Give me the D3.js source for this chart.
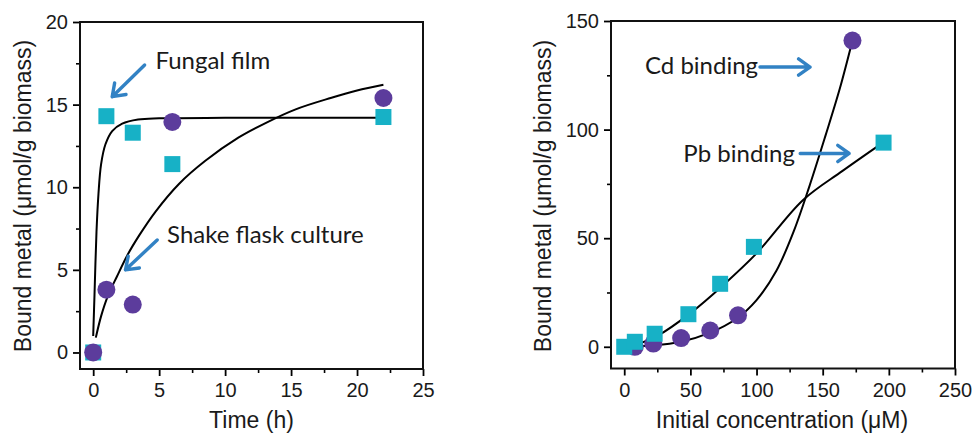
<!DOCTYPE html>
<html>
<head>
<meta charset="UTF-8">
<title>Metal binding</title>
<script src="https://d3js.org/d3.v7.min.js"></script>
<style>
  body { margin: 0; background: #fff; }
  svg text { fill: #1a1a1a; }
</style>
</head>
<body>
<div id="chart"></div>
<script>
// ---- left panel: binding over time ----
var filmTime = [0, 1, 3, 6, 22];
var filmBound = [0, 14.3, 13.3, 11.4, 14.25];
var shakeTime = [0, 1, 3, 6, 22];
var shakeBound = [0, 3.8, 2.9, 13.95, 15.4];

// fitted curves
var filmFitTime = [0, 0.1, 0.25, 0.4, 0.6, 0.93, 1.44, 2.2, 3.4, 5, 10, 22];
var filmFitBound = [1.0, 3.5, 7.3, 9.6, 11.4, 12.6, 13.4, 13.85, 14.1, 14.17, 14.2, 14.2];
var shakeFitTime = [0.2, 0.6, 1.1, 1.8, 2.6, 3.5, 4.7, 6.5, 8.5, 11, 13.1, 15.3, 18, 20, 22];
var shakeFitBound = [0.9, 2.2, 3.4, 4.6, 5.9, 7.1, 8.5, 10.2, 11.6, 13.0, 13.9, 14.7, 15.4, 15.85, 16.2];

var timeTicks = [0, 5, 10, 15, 20, 25];
var leftYTicks = [0, 5, 10, 15, 20];

// ---- right panel: binding vs initial concentration ----
var pbConc = [0, 8, 23, 48.5, 72.5, 98, 196];
var pbBound = [0, 2.3, 6, 15, 29, 46, 94];
var cdConc = [8, 22, 43, 65, 86, 172.5];
var cdBound = [0, 1.5, 4, 7.5, 14.5, 141];

var pbFitConc = [2, 10, 25, 50, 75, 100, 135, 165, 195];
var pbFitBound = [0, 1.2, 5, 15.5, 28.5, 43, 67.5, 81, 93.8];
var cdFitConc = [2, 20, 42, 65, 85, 100, 115, 128, 140, 152, 163, 172.5];
var cdFitBound = [0, 0.6, 2.2, 6.5, 13, 21.5, 35, 53, 74, 97, 119, 141];

var concTicks = [0, 50, 100, 150, 200, 250];
var rightYTicks = [0, 50, 100, 150];

var yTitle = "Bound metal (\u03bcmol/g biomass)";

var cyan = "#17b1c6";
var purple = "#5c3c9c";
var arrowBlue = "#3282c4";

var svg = d3.select("#chart").append("svg")
    .attr("width", 975)
    .attr("height", 433);

function zip(xs, ys) {
    return xs.map(function(x, i) { return [x, ys[i]]; });
}

// draws one framed panel with its axes, returns the scales
function drawPanel(opt) {
    var x = d3.scaleLinear().domain(opt.xDomain).range([opt.left, opt.right]);
    var y = d3.scaleLinear().domain(opt.yDomain).range([opt.bottom, opt.top]);
    var g = svg.append("g");

    // minor ticks first, no labels
    g.append("g")
        .attr("transform", "translate(0," + opt.bottom + ")")
        .call(d3.axisBottom(x).tickValues(opt.xMinor).tickSize(4).tickFormat(""))
        .call(function(a) { a.select(".domain").remove(); })
        .selectAll("line").attr("stroke-width", 1.6);
    g.append("g")
        .attr("transform", "translate(" + opt.left + ",0)")
        .call(d3.axisLeft(y).tickValues(opt.yMinor).tickSize(4).tickFormat(""))
        .call(function(a) { a.select(".domain").remove(); })
        .selectAll("line").attr("stroke-width", 1.6);

    var xa = g.append("g")
        .attr("transform", "translate(0," + opt.bottom + ")")
        .call(d3.axisBottom(x).tickValues(opt.xTicks).tickSize(7).tickPadding(7));
    var ya = g.append("g")
        .attr("transform", "translate(" + opt.left + ",0)")
        .call(d3.axisLeft(y).tickValues(opt.yTicks).tickSize(7).tickPadding(5));
    [xa, ya].forEach(function(a) {
        a.select(".domain").remove();
        a.selectAll("line").attr("stroke-width", 1.8);
        a.selectAll("text")
            .attr("font-family", "Liberation Sans, Arial, sans-serif")
            .attr("font-size", 20)
            .attr("fill", "#1a1a1a");
    });

    g.append("rect")
        .attr("x", opt.left).attr("y", opt.top)
        .attr("width", opt.right - opt.left)
        .attr("height", opt.bottom - opt.top)
        .attr("fill", "none")
        .attr("stroke", "#111")
        .attr("stroke-width", 2);

    // axis titles
    g.append("text")
        .attr("x", (opt.left + opt.right) / 2 + opt.xTitleShift)
        .attr("y", 428)
        .attr("text-anchor", "middle")
        .attr("font-family", "Liberation Sans, Arial, sans-serif")
        .attr("font-size", 23)
        .text(opt.xTitle);
    g.append("text")
        .attr("transform", "translate(" + opt.yTitleX + ",196) rotate(-90)")
        .attr("text-anchor", "middle")
        .attr("font-family", "Liberation Sans, Arial, sans-serif")
        .attr("font-size", 23)
        .text(yTitle);

    return { x: x, y: y, g: g };
}

function drawCurve(p, pts) {
    p.g.append("path")
        .datum(pts)
        .attr("fill", "none")
        .attr("stroke", "#000")
        .attr("stroke-width", 2)
        .attr("d", d3.line()
            .x(function(d) { return p.x(d[0]); })
            .y(function(d) { return p.y(d[1]); })
            .curve(d3.curveCatmullRom.alpha(0.5)));
}

function drawSquares(p, pts) {
    p.g.selectAll(null).data(pts).enter().append("rect")
        .attr("x", function(d) { return p.x(d[0]) - 8; })
        .attr("y", function(d) { return p.y(d[1]) - 8; })
        .attr("width", 16).attr("height", 16)
        .attr("fill", cyan);
}

function drawCircles(p, pts) {
    p.g.selectAll(null).data(pts).enter().append("circle")
        .attr("cx", function(d) { return p.x(d[0]); })
        .attr("cy", function(d) { return p.y(d[1]); })
        .attr("r", 9)
        .attr("fill", purple);
}

// arrow from (x1,y1) to tip (x2,y2), data units
function drawArrow(p, a) {
    var x1 = p.x(a[0]), y1 = p.y(a[1]), x2 = p.x(a[2]), y2 = p.y(a[3]);
    var ang = Math.atan2(y2 - y1, x2 - x1);
    var len = 14, spread = 0.62;
    var path = d3.path();
    path.moveTo(x1, y1); path.lineTo(x2, y2);
    path.moveTo(x2 - len * Math.cos(ang - spread), y2 - len * Math.sin(ang - spread));
    path.lineTo(x2, y2);
    path.lineTo(x2 - len * Math.cos(ang + spread), y2 - len * Math.sin(ang + spread));
    p.g.append("path")
        .attr("d", path.toString())
        .attr("fill", "none")
        .attr("stroke", arrowBlue)
        .attr("stroke-width", 3.4)
        .attr("stroke-linecap", "round")
        .attr("stroke-linejoin", "round");
}

function drawNote(p, pos, label) {
    p.g.append("text")
        .attr("x", p.x(pos[0]))
        .attr("y", p.y(pos[1]))
        .attr("font-family", "Lato, Open Sans, sans-serif")
        .attr("font-size", 24)
        .attr("fill", "#111")
        .text(label);
}

// ---- left ----
var left = drawPanel({
    xDomain: [-1, 25], yDomain: [-1, 20],
    left: 80, right: 423, top: 22, bottom: 369,
    xTicks: timeTicks, yTicks: leftYTicks,
    xMinor: [2.5, 7.5, 12.5, 17.5, 22.5], yMinor: [2.5, 7.5, 12.5, 17.5],
    xTitle: "Time (h)", xTitleShift: 0, yTitleX: 31
});
drawCurve(left, zip(filmFitTime, filmFitBound));
drawCurve(left, zip(shakeFitTime, shakeFitBound));
drawSquares(left, zip(filmTime, filmBound));
drawCircles(left, zip(shakeTime, shakeBound));
drawArrow(left, [3.9, 17.4, 1.44, 15.48]);
drawArrow(left, [4.85, 6.81, 2.45, 5.0]);
drawNote(left, [4.72, 17.16], "Fungal film");
drawNote(left, [5.6, 6.61], "Shake flask culture");

// ---- right ----
var right = drawPanel({
    xDomain: [-10, 250], yDomain: [-10, 150],
    left: 611, right: 955, top: 21, bottom: 368.5,
    xTicks: concTicks, yTicks: rightYTicks,
    xMinor: [25, 75, 125, 175, 225], yMinor: [25, 75, 125],
    xTitle: "Initial concentration (\u03bcM)", xTitleShift: -1, yTitleX: 551
});
drawCurve(right, zip(pbFitConc, pbFitBound));
drawCurve(right, zip(cdFitConc, cdFitBound));
drawCircles(right, zip(cdConc, cdBound));
drawSquares(right, zip(pbConc, pbBound));
drawArrow(right, [102.6, 128.8, 140.4, 128.8]);
drawArrow(right, [133, 89, 170, 89]);
drawNote(right, [15.7, 125.4], "Cd binding");
drawNote(right, [44.7, 85.2], "Pb binding");
</script>
</body>
</html>
